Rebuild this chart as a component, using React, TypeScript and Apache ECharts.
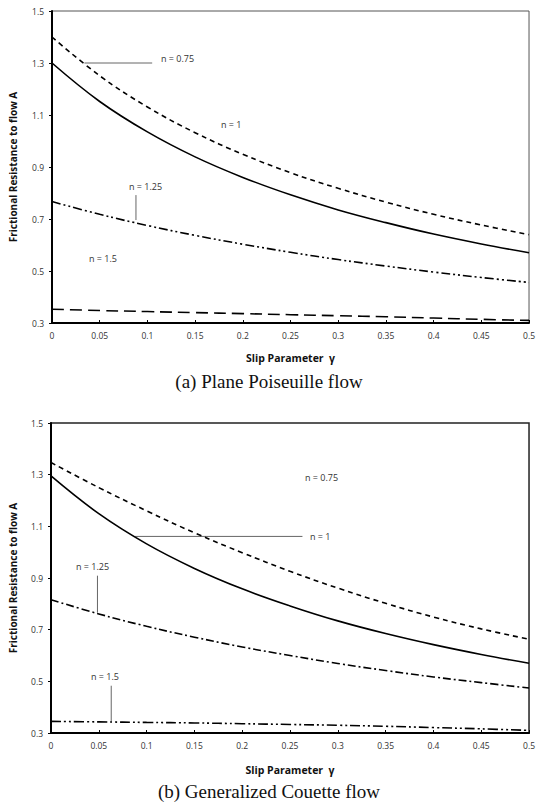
import React, { useEffect, useRef } from "react";
import * as echarts from "echarts";

const gamma = [0, 0.05, 0.1, 0.15, 0.2, 0.25, 0.3, 0.35, 0.4, 0.45, 0.5];
const xTicks = ["0", "0.05", "0.1", "0.15", "0.2", "0.25", "0.3", "0.35", "0.4", "0.45", "0.5"];

// (a) Plane Poiseuille flow
const poiseuilleN075 = [1.4, 1.251, 1.131, 1.032, 0.949, 0.878, 0.818, 0.765, 0.718, 0.677, 0.64];
const poiseuilleN1 = [1.3, 1.152, 1.035, 0.939, 0.86, 0.793, 0.735, 0.686, 0.642, 0.604, 0.57];
const poiseuilleN125 = [0.767, 0.718, 0.675, 0.637, 0.603, 0.572, 0.544, 0.519, 0.496, 0.475, 0.456];
const poiseuilleN15 = [0.353, 0.348, 0.344, 0.34, 0.336, 0.332, 0.328, 0.324, 0.319, 0.314, 0.31];

// (b) Generalized Couette flow
const couetteN075 = [1.347, 1.25, 1.16, 1.075, 0.998, 0.926, 0.861, 0.802, 0.749, 0.703, 0.663];
const couetteN1 = [1.295, 1.149, 1.032, 0.937, 0.858, 0.792, 0.734, 0.685, 0.642, 0.604, 0.57];
const couetteN125 = [0.816, 0.761, 0.713, 0.671, 0.633, 0.6, 0.569, 0.542, 0.517, 0.495, 0.474];
const couetteN15 = [0.345, 0.343, 0.341, 0.339, 0.336, 0.333, 0.33, 0.326, 0.321, 0.316, 0.31];

// leader lines (data coordinates)
const leaderA075 = [[0.034, 1.3], [0.105, 1.3]];
const leaderA125 = [[0.088, 0.792], [0.088, 0.696]];
const leaderB1 = [[0.088, 1.061], [0.263, 1.061]];
const leaderB125 = [[0.0486, 0.909], [0.0486, 0.766]];
const leaderB15 = [[0.063, 0.483], [0.063, 0.345]];

const pair = (ys: number[]) => gamma.map((g, i) => [g, ys[i]]);

const SANS = "'Open Sans', 'DejaVu Sans', sans-serif";

export default function App() {
  const ref = useRef<HTMLDivElement>(null);
  useEffect(() => {
    if (!ref.current) return;
    const chart = echarts.init(ref.current, undefined, { renderer: "svg" });

    const xAxisBase = (gridIndex: number, nameGap: number) => ({
      type: "value" as const,
      gridIndex,
      min: 0,
      max: 0.5,
      interval: 0.05,
      name: "Slip Parameter  γ",
      nameLocation: "middle" as const,
      nameGap,
      nameTextStyle: { fontFamily: SANS, fontWeight: "bold" as const, fontSize: 10.5, color: "#111" },
      axisLine: { show: true, lineStyle: { color: "#000", width: 2 } },
      axisTick: { show: true, inside: true, length: 3, lineStyle: { color: "#000", width: 1 } },
      axisLabel: {
        fontFamily: SANS,
        fontSize: 8.5,
        color: "#333",
        margin: 8,
        formatter: (v: number) => {
          const i = gamma.findIndex((g) => Math.abs(g - v) < 1e-6);
          return i >= 0 ? xTicks[i] : "";
        },
      },
      splitLine: { show: false },
    });
    const yAxisBase = (gridIndex: number, nameGap: number) => ({
      type: "value" as const,
      gridIndex,
      min: 0.3,
      max: 1.5,
      interval: 0.2,
      name: "Frictional Resistance to flow A",
      nameLocation: "middle" as const,
      nameGap,
      nameTextStyle: { fontFamily: SANS, fontWeight: "bold" as const, fontSize: 10, color: "#111" },
      axisLine: { show: true, lineStyle: { color: "#000", width: 2 } },
      axisTick: { show: true, inside: false, length: 3, lineStyle: { color: "#000", width: 1 } },
      axisLabel: {
        fontFamily: SANS,
        fontSize: 8.5,
        color: "#333",
        margin: 8,
        formatter: (v: number) => v.toFixed(1),
      },
      splitLine: { show: false },
    });

    const curve = (xi: number, data: number[], type: any, width = 1.6) => ({
      type: "line" as const,
      xAxisIndex: xi,
      yAxisIndex: xi,
      data: pair(data),
      smooth: 0.4,
      showSymbol: false,
      symbol: "none",
      lineStyle: { color: "#000", width, type },
      silent: true,
    });
    const leader = (xi: number, data: number[][]) => ({
      type: "line" as const,
      xAxisIndex: xi,
      yAxisIndex: xi,
      data,
      showSymbol: false,
      symbol: "none",
      lineStyle: { color: "#666", width: 1 },
      silent: true,
      z: 1,
    });

    const lbl = (left: number, top: number, text: string) => ({
      type: "text" as const,
      left,
      top,
      style: { text, fontFamily: SANS, fontSize: 9, fill: "#333" },
    });
    const caption = (top: number, text: string) => ({
      type: "text" as const,
      left: "center",
      top,
      style: { text, fontFamily: "'Liberation Serif', 'Times New Roman', serif", fontSize: 19, fill: "#111" },
    });

    chart.setOption({
      animation: false,
      backgroundColor: "#fff",
      grid: [
        { left: 52, top: 11, width: 481, height: 312, show: true, borderColor: "#555", borderWidth: 1, backgroundColor: "transparent" },
        { left: 46, top: 423, width: 489, height: 310, show: true, borderColor: "#222", borderWidth: 1.5, backgroundColor: "transparent" },
      ],
      xAxis: [xAxisBase(0, 29), xAxisBase(1, 31)],
      yAxis: [yAxisBase(0, 34), yAxisBase(1, 33)],
      series: [
        curve(0, poiseuilleN075, [5, 4]),
        curve(0, poiseuilleN1, "solid"),
        curve(0, poiseuilleN125, [9, 3, 2, 3, 2, 3]),
        curve(0, poiseuilleN15, [12, 6]),
        leader(0, leaderA075),
        leader(0, leaderA125),
        curve(1, couetteN075, [5, 4]),
        curve(1, couetteN1, "solid"),
        curve(1, couetteN125, [8, 3, 2, 3]),
        curve(1, couetteN15, [10, 3, 2, 3, 2, 3]),
        leader(1, leaderB1),
        leader(1, leaderB125),
        leader(1, leaderB15),
      ],
      graphic: [
        lbl(161, 54, "n = 0.75"),
        lbl(221, 120, "n = 1"),
        lbl(129, 182, "n = 1.25"),
        lbl(89, 254, "n = 1.5"),
        lbl(305, 473, "n = 0.75"),
        lbl(310, 532, "n = 1"),
        lbl(76, 562, "n = 1.25"),
        lbl(91, 672, "n = 1.5"),
        caption(372, "(a) Plane Poiseuille flow"),
        caption(782, "(b) Generalized Couette flow"),
      ],
    });
    return () => chart.dispose();
  }, []);
  return (
    <div
      ref={ref}
      style={{ position: "fixed", left: 0, top: 0, width: 538, height: 808, background: "#fff" }}
    />
  );
}
